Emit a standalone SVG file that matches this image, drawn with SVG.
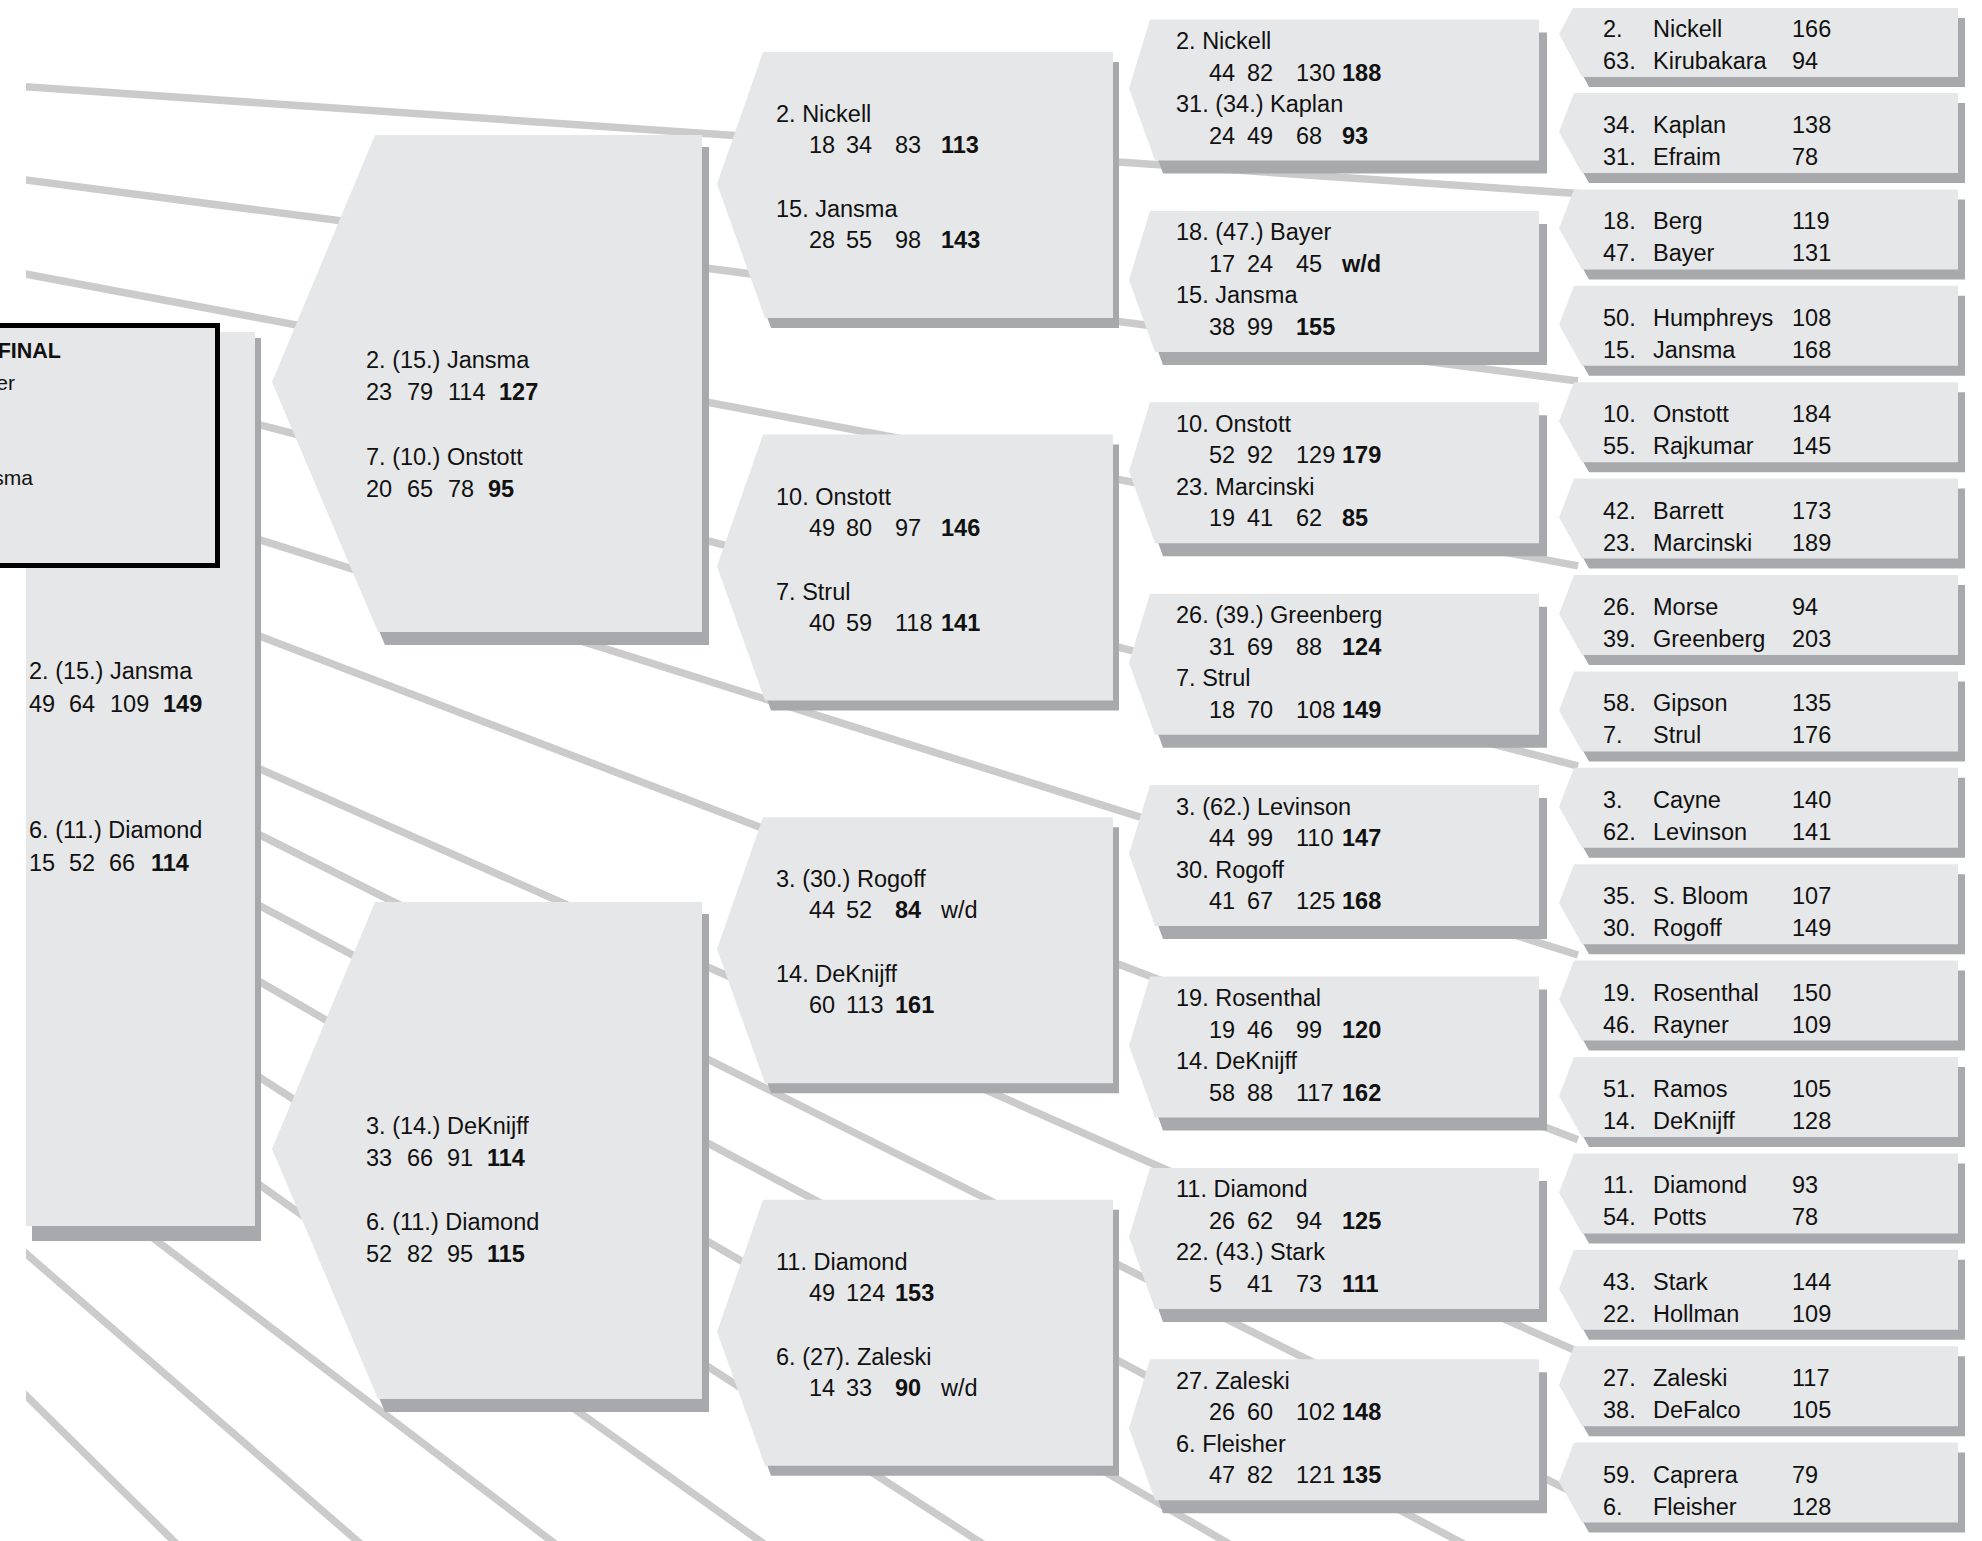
<svg xmlns="http://www.w3.org/2000/svg" xmlns:xlink="http://www.w3.org/1999/xlink" width="1982" height="1541" viewBox="0 0 1982 1541">
<style>
.box{fill:#e6e7e8}
.sh{fill:#a7a9ac}
.ln{stroke:#cbcbcb;stroke-width:7.5;fill:none}
.t{font-family:"Liberation Sans",Arial,sans-serif;font-size:23.5px;fill:#111}
.b{font-weight:bold}
.fs{font-size:21px}
</style>
<defs>
<clipPath id="cl"><rect x="26" y="0" width="1956" height="1541"/></clipPath>
<polygon id="r1" points="1574,0 1958,0 1958,80 1582,80 1559,39"/>
<polygon id="r1s" points="1581,10 1965,10 1965,90 1589,90 1566,49"/>
<polygon id="r2" points="1150,0 1539,0 1539,141 1155,141 1129,69"/>
<polygon id="r2s" points="1158,13 1547,13 1547,154 1163,154 1137,82"/>
<polygon id="r3" points="763,0 1113,0 1113,266 765,266 717,132"/>
<polygon id="r3s" points="769,10 1119,10 1119,276 771,276 723,142"/>
<polygon id="r4" points="375,0 702,0 702,497 378,497 272,247"/>
<polygon id="r4s" points="382,12 709,12 709,510 385,510 279,259"/>
</defs>
<rect width="1982" height="1541" fill="#fff"/>
<g id="connectors" clip-path="url(#cl)">
<line class="ln" x1="0" y1="85" x2="1578" y2="193.6"/>
<line class="ln" x1="0" y1="176.7" x2="1578" y2="381"/>
<line class="ln" x1="0" y1="269.2" x2="1578" y2="565.9"/>
<line class="ln" x1="0" y1="357.7" x2="1578" y2="766"/>
<line class="ln" x1="0" y1="458" x2="1578" y2="955"/>
<line class="ln" x1="0" y1="537" x2="1578" y2="1139.7"/>
<line class="ln" x1="0" y1="654.2" x2="1578" y2="1351.7"/>
<line class="ln" x1="0" y1="704.8" x2="1578" y2="1495"/>
<line class="ln" x1="0" y1="768" x2="1578" y2="1604.5"/>
<line class="ln" x1="0" y1="831" x2="1300" y2="1585"/>
<line class="ln" x1="0" y1="910" x2="1100" y2="1619.5"/>
<line class="ln" x1="0" y1="1000" x2="900" y2="1640.8"/>
<line class="ln" x1="0" y1="1121.6" x2="600" y2="1578"/>
<line class="ln" x1="0" y1="1231" x2="400" y2="1578"/>
<line class="ln" x1="0" y1="1370" x2="200" y2="1567"/>
</g>
<g id="semifinal">
<rect class="sh" x="32" y="338" width="229" height="903"/>
<rect class="box" x="26" y="332" width="229" height="894"/>
<text class="t"><tspan x="29" y="679">2. (15.) Jansma</tspan></text>
<text class="t"><tspan x="29" y="712">49</tspan><tspan x="69" y="712">64</tspan><tspan x="110" y="712">109</tspan><tspan class="b" x="163" y="712">149</tspan></text>
<text class="t"><tspan x="29" y="838">6. (11.) Diamond</tspan></text>
<text class="t"><tspan x="29" y="871">15</tspan><tspan x="69" y="871">52</tspan><tspan x="109" y="871">66</tspan><tspan class="b" x="151" y="871">114</tspan></text>
</g>
<g id="final">
<rect x="-10" y="325.5" width="227.5" height="240" fill="#e6e7e8" stroke="#000" stroke-width="5"/>
<text class="t b" x="61" y="358" text-anchor="end" style="font-size:21.5px">FINAL</text>
<text class="t fs" x="15" y="390" text-anchor="end">er</text>
<text class="t fs" x="33" y="485" text-anchor="end">sma</text>
</g>
<g id="qf-1" transform="translate(0,135)">
<use href="#r4s" class="sh"/><use href="#r4" class="box"/>
<text class="t"><tspan x="366" y="233">2. (15.) Jansma</tspan></text>
<text class="t"><tspan x="366" y="265">23</tspan><tspan x="407" y="265">79</tspan><tspan x="448" y="265">114</tspan><tspan class="b" x="499" y="265">127</tspan></text>
<text class="t"><tspan x="366" y="330">7. (10.) Onstott</tspan></text>
<text class="t"><tspan x="366" y="362">20</tspan><tspan x="407" y="362">65</tspan><tspan x="448" y="362">78</tspan><tspan class="b" x="488" y="362">95</tspan></text>
</g>
<g id="qf-2" transform="translate(0,902)">
<use href="#r4s" class="sh"/><use href="#r4" class="box"/>
<text class="t"><tspan x="366" y="232">3. (14.) DeKnijff</tspan></text>
<text class="t"><tspan x="366" y="264">33</tspan><tspan x="407" y="264">66</tspan><tspan x="447" y="264">91</tspan><tspan class="b" x="487" y="264">114</tspan></text>
<text class="t"><tspan x="366" y="328">6. (11.) Diamond</tspan></text>
<text class="t"><tspan x="366" y="360">52</tspan><tspan x="407" y="360">82</tspan><tspan x="447" y="360">95</tspan><tspan class="b" x="487" y="360">115</tspan></text>
</g>
<g id="r16-1" transform="translate(0,52)">
<use href="#r3s" class="sh"/><use href="#r3" class="box"/>
<text class="t"><tspan x="776" y="70">2. Nickell</tspan></text>
<text class="t"><tspan x="809" y="101">18</tspan><tspan x="846" y="101">34</tspan><tspan x="895" y="101">83</tspan><tspan class="b" x="941" y="101">113</tspan></text>
<text class="t"><tspan x="776" y="165">15. Jansma</tspan></text>
<text class="t"><tspan x="809" y="196">28</tspan><tspan x="846" y="196">55</tspan><tspan x="895" y="196">98</tspan><tspan class="b" x="941" y="196">143</tspan></text>
</g>
<g id="r16-2" transform="translate(0,434.6)">
<use href="#r3s" class="sh"/><use href="#r3" class="box"/>
<text class="t"><tspan x="776" y="70">10. Onstott</tspan></text>
<text class="t"><tspan x="809" y="101">49</tspan><tspan x="846" y="101">80</tspan><tspan x="895" y="101">97</tspan><tspan class="b" x="941" y="101">146</tspan></text>
<text class="t"><tspan x="776" y="165">7. Strul</tspan></text>
<text class="t"><tspan x="809" y="196">40</tspan><tspan x="846" y="196">59</tspan><tspan x="895" y="196">118</tspan><tspan class="b" x="941" y="196">141</tspan></text>
</g>
<g id="r16-3" transform="translate(0,817.2)">
<use href="#r3s" class="sh"/><use href="#r3" class="box"/>
<text class="t"><tspan x="776" y="70">3. (30.) Rogoff</tspan></text>
<text class="t"><tspan x="809" y="101">44</tspan><tspan x="846" y="101">52</tspan><tspan class="b" x="895" y="101">84</tspan><tspan x="941" y="101">w/d</tspan></text>
<text class="t"><tspan x="776" y="165">14. DeKnijff</tspan></text>
<text class="t"><tspan x="809" y="196">60</tspan><tspan x="846" y="196">113</tspan><tspan class="b" x="895" y="196">161</tspan></text>
</g>
<g id="r16-4" transform="translate(0,1199.8)">
<use href="#r3s" class="sh"/><use href="#r3" class="box"/>
<text class="t"><tspan x="776" y="70">11. Diamond</tspan></text>
<text class="t"><tspan x="809" y="101">49</tspan><tspan x="846" y="101">124</tspan><tspan class="b" x="895" y="101">153</tspan></text>
<text class="t"><tspan x="776" y="165">6. (27). Zaleski</tspan></text>
<text class="t"><tspan x="809" y="196">14</tspan><tspan x="846" y="196">33</tspan><tspan class="b" x="895" y="196">90</tspan><tspan x="941" y="196">w/d</tspan></text>
</g>
<g id="r32-1" transform="translate(0,19.5)">
<use href="#r2s" class="sh"/><use href="#r2" class="box"/>
<text class="t"><tspan x="1176" y="29.5">2. Nickell</tspan></text>
<text class="t"><tspan x="1209" y="61">44</tspan><tspan x="1247" y="61">82</tspan><tspan x="1296" y="61">130</tspan><tspan class="b" x="1342" y="61">188</tspan></text>
<text class="t"><tspan x="1176" y="92.5">31. (34.) Kaplan</tspan></text>
<text class="t"><tspan x="1209" y="124">24</tspan><tspan x="1247" y="124">49</tspan><tspan x="1296" y="124">68</tspan><tspan class="b" x="1342" y="124">93</tspan></text>
</g>
<g id="r32-2" transform="translate(0,210.9)">
<use href="#r2s" class="sh"/><use href="#r2" class="box"/>
<text class="t"><tspan x="1176" y="29.5">18. (47.) Bayer</tspan></text>
<text class="t"><tspan x="1209" y="61">17</tspan><tspan x="1247" y="61">24</tspan><tspan x="1296" y="61">45</tspan><tspan class="b" x="1342" y="61">w/d</tspan></text>
<text class="t"><tspan x="1176" y="92.5">15. Jansma</tspan></text>
<text class="t"><tspan x="1209" y="124">38</tspan><tspan x="1247" y="124">99</tspan><tspan class="b" x="1296" y="124">155</tspan></text>
</g>
<g id="r32-3" transform="translate(0,402.3)">
<use href="#r2s" class="sh"/><use href="#r2" class="box"/>
<text class="t"><tspan x="1176" y="29.5">10. Onstott</tspan></text>
<text class="t"><tspan x="1209" y="61">52</tspan><tspan x="1247" y="61">92</tspan><tspan x="1296" y="61">129</tspan><tspan class="b" x="1342" y="61">179</tspan></text>
<text class="t"><tspan x="1176" y="92.5">23. Marcinski</tspan></text>
<text class="t"><tspan x="1209" y="124">19</tspan><tspan x="1247" y="124">41</tspan><tspan x="1296" y="124">62</tspan><tspan class="b" x="1342" y="124">85</tspan></text>
</g>
<g id="r32-4" transform="translate(0,593.7)">
<use href="#r2s" class="sh"/><use href="#r2" class="box"/>
<text class="t"><tspan x="1176" y="29.5">26. (39.) Greenberg</tspan></text>
<text class="t"><tspan x="1209" y="61">31</tspan><tspan x="1247" y="61">69</tspan><tspan x="1296" y="61">88</tspan><tspan class="b" x="1342" y="61">124</tspan></text>
<text class="t"><tspan x="1176" y="92.5">7. Strul</tspan></text>
<text class="t"><tspan x="1209" y="124">18</tspan><tspan x="1247" y="124">70</tspan><tspan x="1296" y="124">108</tspan><tspan class="b" x="1342" y="124">149</tspan></text>
</g>
<g id="r32-5" transform="translate(0,785.1)">
<use href="#r2s" class="sh"/><use href="#r2" class="box"/>
<text class="t"><tspan x="1176" y="29.5">3. (62.) Levinson</tspan></text>
<text class="t"><tspan x="1209" y="61">44</tspan><tspan x="1247" y="61">99</tspan><tspan x="1296" y="61">110</tspan><tspan class="b" x="1342" y="61">147</tspan></text>
<text class="t"><tspan x="1176" y="92.5">30. Rogoff</tspan></text>
<text class="t"><tspan x="1209" y="124">41</tspan><tspan x="1247" y="124">67</tspan><tspan x="1296" y="124">125</tspan><tspan class="b" x="1342" y="124">168</tspan></text>
</g>
<g id="r32-6" transform="translate(0,976.5)">
<use href="#r2s" class="sh"/><use href="#r2" class="box"/>
<text class="t"><tspan x="1176" y="29.5">19. Rosenthal</tspan></text>
<text class="t"><tspan x="1209" y="61">19</tspan><tspan x="1247" y="61">46</tspan><tspan x="1296" y="61">99</tspan><tspan class="b" x="1342" y="61">120</tspan></text>
<text class="t"><tspan x="1176" y="92.5">14. DeKnijff</tspan></text>
<text class="t"><tspan x="1209" y="124">58</tspan><tspan x="1247" y="124">88</tspan><tspan x="1296" y="124">117</tspan><tspan class="b" x="1342" y="124">162</tspan></text>
</g>
<g id="r32-7" transform="translate(0,1167.9)">
<use href="#r2s" class="sh"/><use href="#r2" class="box"/>
<text class="t"><tspan x="1176" y="29.5">11. Diamond</tspan></text>
<text class="t"><tspan x="1209" y="61">26</tspan><tspan x="1247" y="61">62</tspan><tspan x="1296" y="61">94</tspan><tspan class="b" x="1342" y="61">125</tspan></text>
<text class="t"><tspan x="1176" y="92.5">22. (43.) Stark</tspan></text>
<text class="t"><tspan x="1209" y="124">5</tspan><tspan x="1247" y="124">41</tspan><tspan x="1296" y="124">73</tspan><tspan class="b" x="1342" y="124">111</tspan></text>
</g>
<g id="r32-8" transform="translate(0,1359.3)">
<use href="#r2s" class="sh"/><use href="#r2" class="box"/>
<text class="t"><tspan x="1176" y="29.5">27. Zaleski</tspan></text>
<text class="t"><tspan x="1209" y="61">26</tspan><tspan x="1247" y="61">60</tspan><tspan x="1296" y="61">102</tspan><tspan class="b" x="1342" y="61">148</tspan></text>
<text class="t"><tspan x="1176" y="92.5">6. Fleisher</tspan></text>
<text class="t"><tspan x="1209" y="124">47</tspan><tspan x="1247" y="124">82</tspan><tspan x="1296" y="124">121</tspan><tspan class="b" x="1342" y="124">135</tspan></text>
</g>
<g id="r64-1" transform="translate(0,-3.4)">
<polygon class="sh" points="1580,21.4 1965,21.4 1965,90.4 1589,90.4 1566,47.4"/>
<polygon class="box" points="1573,11.4 1958,11.4 1958,80.4 1582,80.4 1559,37.4"/>
<text class="t"><tspan x="1603" y="40">2.</tspan><tspan x="1653" y="40">Nickell</tspan><tspan x="1792" y="40">166</tspan><tspan x="1603" y="72">63.</tspan><tspan x="1653" y="72">Kirubakara</tspan><tspan x="1792" y="72">94</tspan></text>
</g>
<g id="r64-2" transform="translate(0,93)">
<use href="#r1s" class="sh"/><use href="#r1" class="box"/>
<text class="t"><tspan x="1603" y="40">34.</tspan><tspan x="1653" y="40">Kaplan</tspan><tspan x="1792" y="40">138</tspan><tspan x="1603" y="72">31.</tspan><tspan x="1653" y="72">Efraim</tspan><tspan x="1792" y="72">78</tspan></text>
</g>
<g id="r64-3" transform="translate(0,189.4)">
<use href="#r1s" class="sh"/><use href="#r1" class="box"/>
<text class="t"><tspan x="1603" y="40">18.</tspan><tspan x="1653" y="40">Berg</tspan><tspan x="1792" y="40">119</tspan><tspan x="1603" y="72">47.</tspan><tspan x="1653" y="72">Bayer</tspan><tspan x="1792" y="72">131</tspan></text>
</g>
<g id="r64-4" transform="translate(0,285.8)">
<use href="#r1s" class="sh"/><use href="#r1" class="box"/>
<text class="t"><tspan x="1603" y="40">50.</tspan><tspan x="1653" y="40">Humphreys</tspan><tspan x="1792" y="40">108</tspan><tspan x="1603" y="72">15.</tspan><tspan x="1653" y="72">Jansma</tspan><tspan x="1792" y="72">168</tspan></text>
</g>
<g id="r64-5" transform="translate(0,382.2)">
<use href="#r1s" class="sh"/><use href="#r1" class="box"/>
<text class="t"><tspan x="1603" y="40">10.</tspan><tspan x="1653" y="40">Onstott</tspan><tspan x="1792" y="40">184</tspan><tspan x="1603" y="72">55.</tspan><tspan x="1653" y="72">Rajkumar</tspan><tspan x="1792" y="72">145</tspan></text>
</g>
<g id="r64-6" transform="translate(0,478.6)">
<use href="#r1s" class="sh"/><use href="#r1" class="box"/>
<text class="t"><tspan x="1603" y="40">42.</tspan><tspan x="1653" y="40">Barrett</tspan><tspan x="1792" y="40">173</tspan><tspan x="1603" y="72">23.</tspan><tspan x="1653" y="72">Marcinski</tspan><tspan x="1792" y="72">189</tspan></text>
</g>
<g id="r64-7" transform="translate(0,575)">
<use href="#r1s" class="sh"/><use href="#r1" class="box"/>
<text class="t"><tspan x="1603" y="40">26.</tspan><tspan x="1653" y="40">Morse</tspan><tspan x="1792" y="40">94</tspan><tspan x="1603" y="72">39.</tspan><tspan x="1653" y="72">Greenberg</tspan><tspan x="1792" y="72">203</tspan></text>
</g>
<g id="r64-8" transform="translate(0,671.4)">
<use href="#r1s" class="sh"/><use href="#r1" class="box"/>
<text class="t"><tspan x="1603" y="40">58.</tspan><tspan x="1653" y="40">Gipson</tspan><tspan x="1792" y="40">135</tspan><tspan x="1603" y="72">7.</tspan><tspan x="1653" y="72">Strul</tspan><tspan x="1792" y="72">176</tspan></text>
</g>
<g id="r64-9" transform="translate(0,767.8)">
<use href="#r1s" class="sh"/><use href="#r1" class="box"/>
<text class="t"><tspan x="1603" y="40">3.</tspan><tspan x="1653" y="40">Cayne</tspan><tspan x="1792" y="40">140</tspan><tspan x="1603" y="72">62.</tspan><tspan x="1653" y="72">Levinson</tspan><tspan x="1792" y="72">141</tspan></text>
</g>
<g id="r64-10" transform="translate(0,864.2)">
<use href="#r1s" class="sh"/><use href="#r1" class="box"/>
<text class="t"><tspan x="1603" y="40">35.</tspan><tspan x="1653" y="40">S. Bloom</tspan><tspan x="1792" y="40">107</tspan><tspan x="1603" y="72">30.</tspan><tspan x="1653" y="72">Rogoff</tspan><tspan x="1792" y="72">149</tspan></text>
</g>
<g id="r64-11" transform="translate(0,960.6)">
<use href="#r1s" class="sh"/><use href="#r1" class="box"/>
<text class="t"><tspan x="1603" y="40">19.</tspan><tspan x="1653" y="40">Rosenthal</tspan><tspan x="1792" y="40">150</tspan><tspan x="1603" y="72">46.</tspan><tspan x="1653" y="72">Rayner</tspan><tspan x="1792" y="72">109</tspan></text>
</g>
<g id="r64-12" transform="translate(0,1057)">
<use href="#r1s" class="sh"/><use href="#r1" class="box"/>
<text class="t"><tspan x="1603" y="40">51.</tspan><tspan x="1653" y="40">Ramos</tspan><tspan x="1792" y="40">105</tspan><tspan x="1603" y="72">14.</tspan><tspan x="1653" y="72">DeKnijff</tspan><tspan x="1792" y="72">128</tspan></text>
</g>
<g id="r64-13" transform="translate(0,1153.4)">
<use href="#r1s" class="sh"/><use href="#r1" class="box"/>
<text class="t"><tspan x="1603" y="40">11.</tspan><tspan x="1653" y="40">Diamond</tspan><tspan x="1792" y="40">93</tspan><tspan x="1603" y="72">54.</tspan><tspan x="1653" y="72">Potts</tspan><tspan x="1792" y="72">78</tspan></text>
</g>
<g id="r64-14" transform="translate(0,1249.8)">
<use href="#r1s" class="sh"/><use href="#r1" class="box"/>
<text class="t"><tspan x="1603" y="40">43.</tspan><tspan x="1653" y="40">Stark</tspan><tspan x="1792" y="40">144</tspan><tspan x="1603" y="72">22.</tspan><tspan x="1653" y="72">Hollman</tspan><tspan x="1792" y="72">109</tspan></text>
</g>
<g id="r64-15" transform="translate(0,1346.2)">
<use href="#r1s" class="sh"/><use href="#r1" class="box"/>
<text class="t"><tspan x="1603" y="40">27.</tspan><tspan x="1653" y="40">Zaleski</tspan><tspan x="1792" y="40">117</tspan><tspan x="1603" y="72">38.</tspan><tspan x="1653" y="72">DeFalco</tspan><tspan x="1792" y="72">105</tspan></text>
</g>
<g id="r64-16" transform="translate(0,1442.6)">
<use href="#r1s" class="sh"/><use href="#r1" class="box"/>
<text class="t"><tspan x="1603" y="40">59.</tspan><tspan x="1653" y="40">Caprera</tspan><tspan x="1792" y="40">79</tspan><tspan x="1603" y="72">6.</tspan><tspan x="1653" y="72">Fleisher</tspan><tspan x="1792" y="72">128</tspan></text>
</g>
</svg>
